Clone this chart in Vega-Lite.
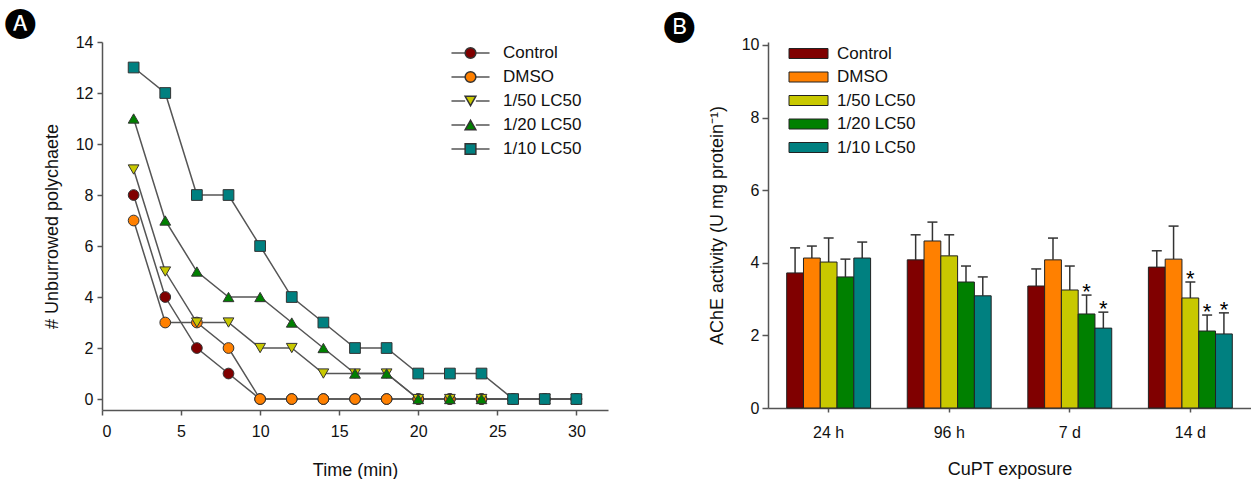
{
  "$schema": "https://vega.github.io/schema/vega-lite/v6.json",
  "padding": {"left": 5, "top": 7, "right": 0, "bottom": 0},
  "bounds": "flush",
  "spacing": 160,
  "resolve": {"scale": {"fill": "independent", "shape": "independent", "stroke": "independent"}, "legend": {"fill": "independent", "shape": "independent", "stroke": "independent"}},
  "config": {
    "font": "Liberation Sans",
    "view": {"stroke": null},
    "axis": {
      "grid": false,
      "domainColor": "#555",
      "domainWidth": 1.5,
      "tickColor": "#555",
      "tickWidth": 1.5,
      "tickSize": 5,
      "labelFont": "Liberation Sans",
      "labelFontSize": 16,
      "labelColor": "#111",
      "titleFont": "Liberation Sans",
      "titleFontSize": 18,
      "titleFontWeight": "normal",
      "titleColor": "#111"
    }
  },
  "datasets": {
    "burrow": [
      {"series": "Control", "time": 2, "n": 8}, {"series": "Control", "time": 4, "n": 4}, {"series": "Control", "time": 6, "n": 2}, {"series": "Control", "time": 8, "n": 1},
      {"series": "Control", "time": 10, "n": 0}, {"series": "Control", "time": 12, "n": 0}, {"series": "Control", "time": 14, "n": 0}, {"series": "Control", "time": 16, "n": 0},
      {"series": "Control", "time": 18, "n": 0}, {"series": "Control", "time": 20, "n": 0}, {"series": "Control", "time": 22, "n": 0}, {"series": "Control", "time": 24, "n": 0},
      {"series": "Control", "time": 26, "n": 0}, {"series": "Control", "time": 28, "n": 0}, {"series": "Control", "time": 30, "n": 0},
      {"series": "DMSO", "time": 2, "n": 7}, {"series": "DMSO", "time": 4, "n": 3}, {"series": "DMSO", "time": 6, "n": 3}, {"series": "DMSO", "time": 8, "n": 2},
      {"series": "DMSO", "time": 10, "n": 0}, {"series": "DMSO", "time": 12, "n": 0}, {"series": "DMSO", "time": 14, "n": 0}, {"series": "DMSO", "time": 16, "n": 0},
      {"series": "DMSO", "time": 18, "n": 0}, {"series": "DMSO", "time": 20, "n": 0}, {"series": "DMSO", "time": 22, "n": 0}, {"series": "DMSO", "time": 24, "n": 0},
      {"series": "DMSO", "time": 26, "n": 0}, {"series": "DMSO", "time": 28, "n": 0}, {"series": "DMSO", "time": 30, "n": 0},
      {"series": "1/50 LC50", "time": 2, "n": 9}, {"series": "1/50 LC50", "time": 4, "n": 5}, {"series": "1/50 LC50", "time": 6, "n": 3}, {"series": "1/50 LC50", "time": 8, "n": 3},
      {"series": "1/50 LC50", "time": 10, "n": 2}, {"series": "1/50 LC50", "time": 12, "n": 2}, {"series": "1/50 LC50", "time": 14, "n": 1}, {"series": "1/50 LC50", "time": 16, "n": 1},
      {"series": "1/50 LC50", "time": 18, "n": 1}, {"series": "1/50 LC50", "time": 20, "n": 0}, {"series": "1/50 LC50", "time": 22, "n": 0}, {"series": "1/50 LC50", "time": 24, "n": 0},
      {"series": "1/50 LC50", "time": 26, "n": 0}, {"series": "1/50 LC50", "time": 28, "n": 0}, {"series": "1/50 LC50", "time": 30, "n": 0},
      {"series": "1/20 LC50", "time": 2, "n": 11}, {"series": "1/20 LC50", "time": 4, "n": 7}, {"series": "1/20 LC50", "time": 6, "n": 5}, {"series": "1/20 LC50", "time": 8, "n": 4},
      {"series": "1/20 LC50", "time": 10, "n": 4}, {"series": "1/20 LC50", "time": 12, "n": 3}, {"series": "1/20 LC50", "time": 14, "n": 2}, {"series": "1/20 LC50", "time": 16, "n": 1},
      {"series": "1/20 LC50", "time": 18, "n": 1}, {"series": "1/20 LC50", "time": 20, "n": 0}, {"series": "1/20 LC50", "time": 22, "n": 0}, {"series": "1/20 LC50", "time": 24, "n": 0},
      {"series": "1/20 LC50", "time": 26, "n": 0}, {"series": "1/20 LC50", "time": 28, "n": 0}, {"series": "1/20 LC50", "time": 30, "n": 0},
      {"series": "1/10 LC50", "time": 2, "n": 13}, {"series": "1/10 LC50", "time": 4, "n": 12}, {"series": "1/10 LC50", "time": 6, "n": 8}, {"series": "1/10 LC50", "time": 8, "n": 8},
      {"series": "1/10 LC50", "time": 10, "n": 6}, {"series": "1/10 LC50", "time": 12, "n": 4}, {"series": "1/10 LC50", "time": 14, "n": 3}, {"series": "1/10 LC50", "time": 16, "n": 2},
      {"series": "1/10 LC50", "time": 18, "n": 2}, {"series": "1/10 LC50", "time": 20, "n": 1}, {"series": "1/10 LC50", "time": 22, "n": 1}, {"series": "1/10 LC50", "time": 24, "n": 1},
      {"series": "1/10 LC50", "time": 26, "n": 0}, {"series": "1/10 LC50", "time": 28, "n": 0}, {"series": "1/10 LC50", "time": 30, "n": 0}
    ],
    "ache": [
      {"time": "24 h", "series": "Control", "mean": 3.72, "upper": 4.41, "sig": ""},
      {"time": "24 h", "series": "DMSO", "mean": 4.13, "upper": 4.46, "sig": ""},
      {"time": "24 h", "series": "1/50 LC50", "mean": 4.02, "upper": 4.68, "sig": ""},
      {"time": "24 h", "series": "1/20 LC50", "mean": 3.61, "upper": 4.1, "sig": ""},
      {"time": "24 h", "series": "1/10 LC50", "mean": 4.13, "upper": 4.57, "sig": ""},
      {"time": "96 h", "series": "Control", "mean": 4.08, "upper": 4.77, "sig": ""},
      {"time": "96 h", "series": "DMSO", "mean": 4.6, "upper": 5.12, "sig": ""},
      {"time": "96 h", "series": "1/50 LC50", "mean": 4.19, "upper": 4.77, "sig": ""},
      {"time": "96 h", "series": "1/20 LC50", "mean": 3.47, "upper": 3.91, "sig": ""},
      {"time": "96 h", "series": "1/10 LC50", "mean": 3.09, "upper": 3.61, "sig": ""},
      {"time": "7 d", "series": "Control", "mean": 3.36, "upper": 3.83, "sig": ""},
      {"time": "7 d", "series": "DMSO", "mean": 4.08, "upper": 4.68, "sig": ""},
      {"time": "7 d", "series": "1/50 LC50", "mean": 3.25, "upper": 3.91, "sig": ""},
      {"time": "7 d", "series": "1/20 LC50", "mean": 2.59, "upper": 3.11, "sig": "*"},
      {"time": "7 d", "series": "1/10 LC50", "mean": 2.2, "upper": 2.64, "sig": "*"},
      {"time": "14 d", "series": "Control", "mean": 3.88, "upper": 4.33, "sig": ""},
      {"time": "14 d", "series": "DMSO", "mean": 4.1, "upper": 5.01, "sig": ""},
      {"time": "14 d", "series": "1/50 LC50", "mean": 3.03, "upper": 3.47, "sig": "*"},
      {"time": "14 d", "series": "1/20 LC50", "mean": 2.12, "upper": 2.56, "sig": "*"},
      {"time": "14 d", "series": "1/10 LC50", "mean": 2.04, "upper": 2.62, "sig": "*"}
    ]
  },
  "hconcat": [
    {
      "width": 506,
      "height": 368,
      "title": {"text": "🅐", "anchor": "start", "frame": "group", "font": "DejaVu Sans", "fontSize": 30, "fontWeight": "normal", "color": "#000", "baseline": "middle", "offset": -18, "dx": -97},
      "data": {"name": "burrow"},
      "layer": [
        {
          "mark": {"type": "line", "strokeWidth": 1.5},
          "encoding": {
            "x": {"field": "time", "type": "quantitative", "scale": {"domain": [0, 32], "nice": false},
                  "axis": {"title": "Time (min)", "values": [0, 5, 10, 15, 20, 25, 30], "labelPadding": 8, "titlePadding": 22}},
            "y": {"field": "n", "type": "quantitative", "scale": {"domain": [-0.43, 14], "nice": false, "zero": false},
                  "axis": {"title": "# Unburrowed polychaete", "values": [0, 2, 4, 6, 8, 10, 12, 14], "labelPadding": 4, "titlePadding": 14}},
            "stroke": {"field": "series", "type": "nominal", "sort": ["Control", "DMSO", "1/50 LC50", "1/20 LC50", "1/10 LC50"],
                       "scale": {"range": ["#555", "#555", "#555", "#555", "#555"]},
                       "legend": {"title": null, "orient": "none", "legendX": 360, "legendY": 2.5, "padding": 0,
                                  "labelFont": "Liberation Sans", "labelFontSize": 17, "labelColor": "#111", "labelOffset": 24, "rowPadding": 6,
                                  "symbolType": "M-3.55,0H-1M1,0H3.55", "symbolSize": 115, "symbolStrokeWidth": 1.5, "symbolOpacity": 1}}
          }
        },
        {
          "mark": {"type": "point", "filled": true, "size": 115, "stroke": "#333", "strokeWidth": 1, "opacity": 1},
          "encoding": {
            "x": {"field": "time", "type": "quantitative"},
            "y": {"field": "n", "type": "quantitative"},
            "fill": {"field": "series", "type": "nominal",
                     "scale": {"domain": ["Control", "DMSO", "1/50 LC50", "1/20 LC50", "1/10 LC50"], "range": ["#800000", "#FF8000", "#C8C800", "#008000", "#008080"]},
                     "legend": {"title": null, "orient": "none", "legendX": 360, "legendY": 2.5, "padding": 0,
                                "labelFont": "Liberation Sans", "labelFontSize": 17, "labelColor": "#111", "labelOpacity": 0, "labelOffset": 24, "rowPadding": 6, "symbolSize": 115}},
            "shape": {"field": "series", "type": "nominal",
                      "scale": {"domain": ["Control", "DMSO", "1/50 LC50", "1/20 LC50", "1/10 LC50"], "range": ["circle", "circle", "triangle-down", "triangle-up", "square"]},
                      "legend": {"title": null, "orient": "none", "legendX": 360, "legendY": 2.5, "padding": 0,
                                "labelFont": "Liberation Sans", "labelFontSize": 17, "labelColor": "#111", "labelOpacity": 0, "labelOffset": 24, "rowPadding": 6, "symbolSize": 115}}
          }
        }
      ]
    },
    {
      "width": 483,
      "height": 366,
      "title": {"text": "🅑", "anchor": "start", "frame": "group", "font": "DejaVu Sans", "fontSize": 30, "fontWeight": "normal", "color": "#000", "baseline": "middle", "offset": -18, "dx": -104},
      "data": {"name": "ache"},
      "encoding": {
        "x": {"field": "time", "type": "nominal", "sort": ["24 h", "96 h", "7 d", "14 d"],
              "scale": {"paddingInner": 0.304, "paddingOuter": 0.155},
              "axis": {"title": "CuPT exposure", "labelAngle": 0, "tickSize": 4, "labelPadding": 12, "titlePadding": 20}},
        "xOffset": {"field": "series", "type": "nominal", "sort": ["Control", "DMSO", "1/50 LC50", "1/20 LC50", "1/10 LC50"],
                    "scale": {"paddingInner": 0, "paddingOuter": 0}}
      },
      "layer": [
        {
          "mark": {"type": "rule", "color": "#333", "strokeWidth": 1.5},
          "encoding": {
            "y": {"field": "mean", "type": "quantitative", "scale": {"domain": [0, 10.08], "nice": false},
                  "axis": {"title": "AChE activity (U mg protein⁻¹)", "values": [0, 2, 4, 6, 8, 10], "tickSize": 6, "labelPadding": 3, "titlePadding": 15}},
            "y2": {"field": "upper"}
          }
        },
        {
          "mark": {"type": "tick", "color": "#333", "thickness": 1.5, "size": 10, "opacity": 1},
          "encoding": {
            "y": {"field": "upper", "type": "quantitative"}
          }
        },
        {
          "mark": {"type": "bar", "stroke": "#222", "strokeWidth": 1},
          "encoding": {
            "y": {"field": "mean", "type": "quantitative"},
            "fill": {"field": "series", "type": "nominal",
                     "scale": {"domain": ["Control", "DMSO", "1/50 LC50", "1/20 LC50", "1/10 LC50"], "range": ["#800000", "#FF8000", "#C8C800", "#008000", "#008080"]},
                     "legend": {"title": null, "orient": "none", "legendX": 30, "legendY": 1, "padding": 0,
                                "labelFont": "Liberation Sans", "labelFontSize": 17, "labelColor": "#111", "labelOffset": 18, "rowPadding": 4.5,
                                "symbolType": "M-1.95,-0.5H1.95V0.5H-1.95Z", "symbolSize": 400, "symbolStrokeColor": "#222", "symbolStrokeWidth": 1, "symbolOpacity": 1}}
          }
        },
        {
          "mark": {"type": "text", "fontSize": 22, "baseline": "alphabetic", "dy": 4, "color": "#000"},
          "encoding": {
            "y": {"field": "upper", "type": "quantitative"},
            "text": {"field": "sig"}
          }
        }
      ]
    }
  ]
}
